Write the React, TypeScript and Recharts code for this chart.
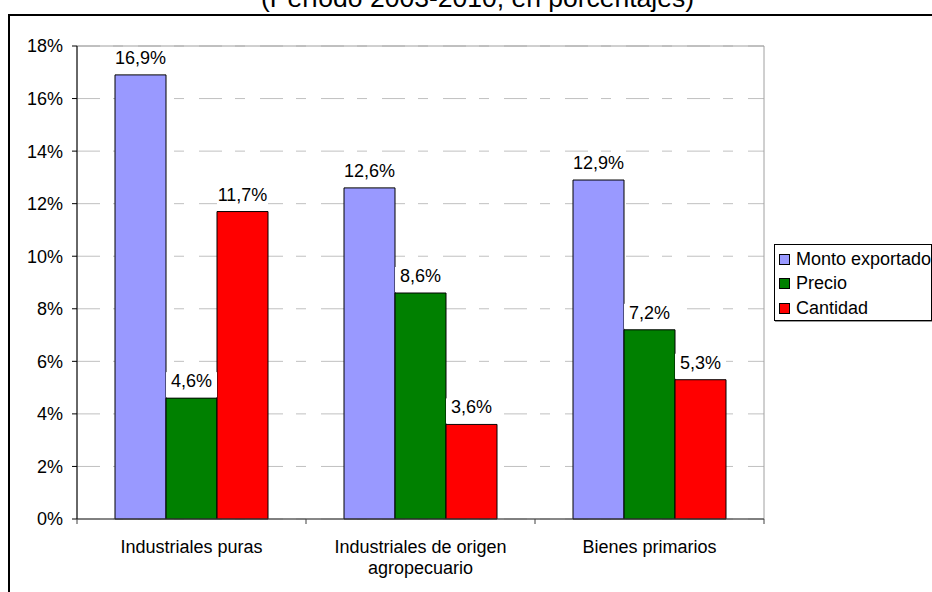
import React from 'react';
import {
  BarChart,
  Bar,
  XAxis,
  YAxis,
  CartesianGrid,
  Legend,
  LabelList,
  ReferenceArea,
} from 'recharts';

const categories = ['Industriales puras', 'Industriales de origen agropecuario', 'Bienes primarios'];
const categoryLines = [['Industriales puras'], ['Industriales de origen', 'agropecuario'], ['Bienes primarios']];
const montoExportado = [16.9, 12.6, 12.9];
const precio = [4.6, 8.6, 7.2];
const cantidad = [11.7, 3.6, 5.3];
const yTicks = [0, 2, 4, 6, 8, 10, 12, 14, 16, 18];

const seriesNames = ['Monto exportado', 'Precio', 'Cantidad'];
const seriesColors = ['#9999FF', '#008000', '#FF0000'];

const data = categories.map((name, i) => ({
  name,
  monto: montoExportado[i],
  precio: precio[i],
  cantidad: cantidad[i],
}));

const FONT = '"Liberation Sans", Arial, sans-serif';
const W = 932;
const H = 592;
const MARGIN = { top: 46, right: 168, left: 0, bottom: 0 };
const Y_AXIS_W = 77;
const PLOT_W = W - MARGIN.right - MARGIN.left - Y_AXIS_W;

const fmt = (v: number) => `${v.toFixed(1).replace('.', ',')}%`;

const BarLabel = (props: any) => {
  const { x, y, width, value } = props;
  if (value == null) return null;
  return (
    <g>
      <rect x={x} y={y - 26} width={width} height={25} fill="#fff" />
      <text x={x + width / 2} y={y - 11} textAnchor="middle" fontSize={18} fontFamily={FONT} fill="#000">
        {fmt(value)}
      </text>
    </g>
  );
};

const CategoryTick = (props: any) => {
  const { x, y, index } = props;
  const band = PLOT_W / categories.length;
  const lines = categoryLines[index] || [];
  const left = x - band / 2;
  const right = x + band / 2;
  return (
    <g>
      <line x1={left} x2={left} y1={y - 5} y2={y} stroke="#404040" />
      {index === categories.length - 1 && <line x1={right} x2={right} y1={y - 5} y2={y} stroke="#404040" />}
      {lines.map((l: string, i: number) => (
        <text key={i} x={x} y={y + 29 + i * 21} textAnchor="middle" fontSize={18} fontFamily={FONT} fill="#000">
          {l}
        </text>
      ))}
    </g>
  );
};

const LegendBox = () => (
  <div
    style={{
      border: '1px solid #000',
      boxShadow: '1px 1px 0 #999',
      background: '#fff',
      width: 156,
      height: 73,
      boxSizing: 'content-box',
      paddingTop: 2,
      fontFamily: FONT,
      fontSize: 18,
      overflow: 'hidden',
    }}
  >
    {seriesNames.map((n, i) => (
      <div key={n} style={{ display: 'flex', alignItems: 'center', height: 24.5, whiteSpace: 'nowrap' }}>
        <span
          style={{
            display: 'inline-block',
            width: 9,
            height: 9,
            border: '1px solid #000',
            background: seriesColors[i],
            marginLeft: 4,
            marginRight: 6,
          }}
        />
        <span>{n}</span>
      </div>
    ))}
  </div>
);

export default function App() {
  return (
    <div style={{ position: 'absolute', left: 0, top: 0, width: W, height: H, overflow: 'hidden', background: '#fff' }}>
      <div
        style={{
          position: 'absolute',
          left: 8,
          top: 14,
          width: 1200,
          height: 1200,
          border: '2px solid #000',
          boxSizing: 'border-box',
        }}
      />
      <div
        style={{
          position: 'absolute',
          left: 0,
          width: 955,
          top: -15.5,
          textAlign: 'center',
          fontFamily: FONT,
          fontSize: 26.5,
          lineHeight: 1,
          whiteSpace: 'nowrap',
        }}
      >
        (Período 2003-2010, en porcentajes)
      </div>
      <div style={{ position: 'absolute', left: 0, top: 0 }}>
        <BarChart width={W} height={H} data={data} margin={MARGIN} barCategoryGap="16.6%" barGap={0}>
          <CartesianGrid vertical={false} stroke="#c0c0c0" strokeDasharray="23 13 10 15" />
          <ReferenceArea y1={0} y2={18} fill="none" stroke="#a0a0a0" strokeWidth={1} />
          <XAxis
            dataKey="name"
            height={73}
            axisLine={{ stroke: '#404040' }}
            tickLine={false}
            tickSize={5}
            tickMargin={0}
            interval={0}
            tick={<CategoryTick />}
          />
          <YAxis
            width={Y_AXIS_W}
            domain={[0, 18]}
            ticks={yTicks}
            tickFormatter={(v: number) => `${v}%`}
            axisLine={{ stroke: '#000' }}
            tickLine={{ stroke: '#000' }}
            tickSize={5}
            tickMargin={9}
            tick={{ fontSize: 18, fontFamily: FONT, fill: '#000' }}
            interval={0}
          />
          <Legend
            layout="horizontal"
            verticalAlign="middle"
            content={<LegendBox />}
            wrapperStyle={{ left: 774, top: 244, width: 'auto', height: 'auto' }}
          />
          <Bar dataKey="monto" name={seriesNames[0]} fill={seriesColors[0]} stroke="#000" strokeWidth={1} isAnimationActive={false}>
            <LabelList dataKey="monto" content={<BarLabel />} />
          </Bar>
          <Bar dataKey="precio" name={seriesNames[1]} fill={seriesColors[1]} stroke="#000" strokeWidth={1} isAnimationActive={false}>
            <LabelList dataKey="precio" content={<BarLabel />} />
          </Bar>
          <Bar dataKey="cantidad" name={seriesNames[2]} fill={seriesColors[2]} stroke="#000" strokeWidth={1} isAnimationActive={false}>
            <LabelList dataKey="cantidad" content={<BarLabel />} />
          </Bar>
        </BarChart>
      </div>
    </div>
  );
}
